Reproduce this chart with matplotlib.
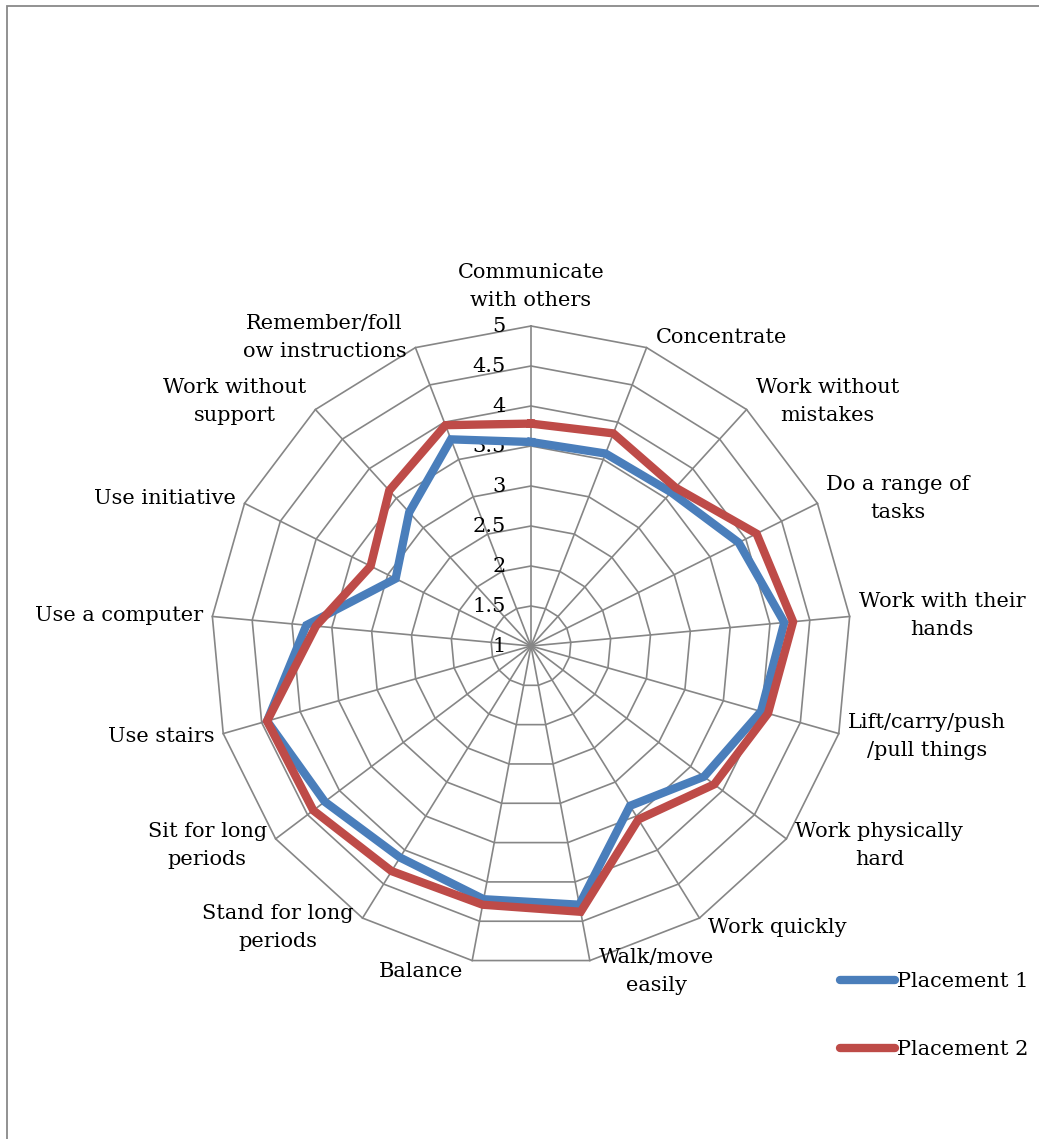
import numpy as np
import matplotlib.pyplot as plt
from matplotlib.lines import Line2D
from matplotlib.patches import Rectangle

categories = ['Communicate\nwith others', 'Concentrate', 'Work without\nmistakes',
              'Do a range of\ntasks', 'Work with their\nhands', 'Lift/carry/push\n/pull things',
              'Work physically\nhard', 'Work quickly', 'Walk/move\neasily', 'Balance',
              'Stand for long\nperiods', 'Sit for long\nperiods', 'Use stairs', 'Use a computer',
              'Use initiative', 'Work without\nsupport', 'Remember/foll\now instructions']
placement1 = [3.55, 3.58, 3.60, 3.90, 4.18, 3.99, 3.71, 3.35, 4.29, 4.22,
              4.11, 4.23, 4.43, 3.82, 2.89, 3.26, 3.77]
placement2 = [3.78, 3.85, 3.68, 4.15, 4.29, 4.08, 3.87, 3.55, 4.38, 4.29,
              4.31, 4.41, 4.43, 3.70, 3.24, 3.63, 3.96]
ticks = [1, 1.5, 2, 2.5, 3, 3.5, 4, 4.5, 5]
series = ['Placement 1', 'Placement 2']
colors = ['#4A7EBB', '#BE4B48']

W, H = 1039, 1139
cx, cy = 531, 646      # centre in pixels (from top-left)
ppu = 80.0             # pixels per value unit
vmin = 1

fig = plt.figure(figsize=(W / 100, H / 100), dpi=100)
ax = fig.add_axes([0, 0, 1, 1])
ax.set_xlim(-cx / ppu, (W - cx) / ppu)
ax.set_ylim(-(H - cy) / ppu, cy / ppu)
ax.axis('off')

font = 'DejaVu Serif'
fs = 15
grid_col = '#868686'

n = len(categories)
theta = np.arange(n) * 2 * np.pi / n


def xy(vals):
    r = np.asarray(vals, dtype=float) - vmin
    return r * np.sin(theta), r * np.cos(theta)


# polygon grid rings
for t in ticks[1:]:
    gx, gy = xy([t] * n)
    ax.plot(np.append(gx, gx[0]), np.append(gy, gy[0]), color=grid_col, lw=1.2, zorder=1)
# spokes
ox, oy = xy([ticks[-1]] * n)
for i in range(n):
    ax.plot([0, ox[i]], [0, oy[i]], color=grid_col, lw=1.2, zorder=1)

# tick labels along top spoke
for t in ticks:
    ax.text(-25 / ppu, t - vmin, f'{t:g}', ha='right', va='center',
            fontsize=fs, family=font, zorder=3)

# category labels
for i, lab in enumerate(categories):
    s, c = np.sin(theta[i]), np.cos(theta[i])
    x0, y0 = ox[i], oy[i]
    if abs(s) < 1e-6:
        ax.text(x0, y0 + 16 / ppu, lab, ha='center', va='bottom', fontsize=fs,
                family=font, multialignment='center', linespacing=1.6)
        continue
    ha = 'left' if s > 0 else 'right'
    dx = 9 / ppu if s > 0 else -9 / ppu
    ax.text(x0 + dx, y0 + 11 * c / ppu, lab, ha=ha, va='center', fontsize=fs,
            family=font, multialignment='center', linespacing=1.6)

# data series
for vals, col, name in zip([placement1, placement2], colors, series):
    px, py = xy(vals)
    ax.plot(np.append(px, px[0]), np.append(py, py[0]), color=col, lw=6,
            solid_joinstyle='miter', zorder=4, label=name)

handles = [Line2D([], [], color=c, lw=6, solid_capstyle='round') for c in colors]
fig.legend(handles, series, loc='upper left', bbox_to_anchor=(832 / W, 1 - 964 / H),
           frameon=False, prop={'family': font, 'size': fs}, handlelength=2.6,
           handletextpad=0.12, labelspacing=2.35, borderaxespad=0)

fig.patches.append(Rectangle((7 / W, -0.05), 1.2, 1.05 - 6 / H, transform=fig.transFigure,
                             fill=False, edgecolor='#898989', lw=1.3))

fig.savefig('out.png', dpi=100, facecolor='white')
